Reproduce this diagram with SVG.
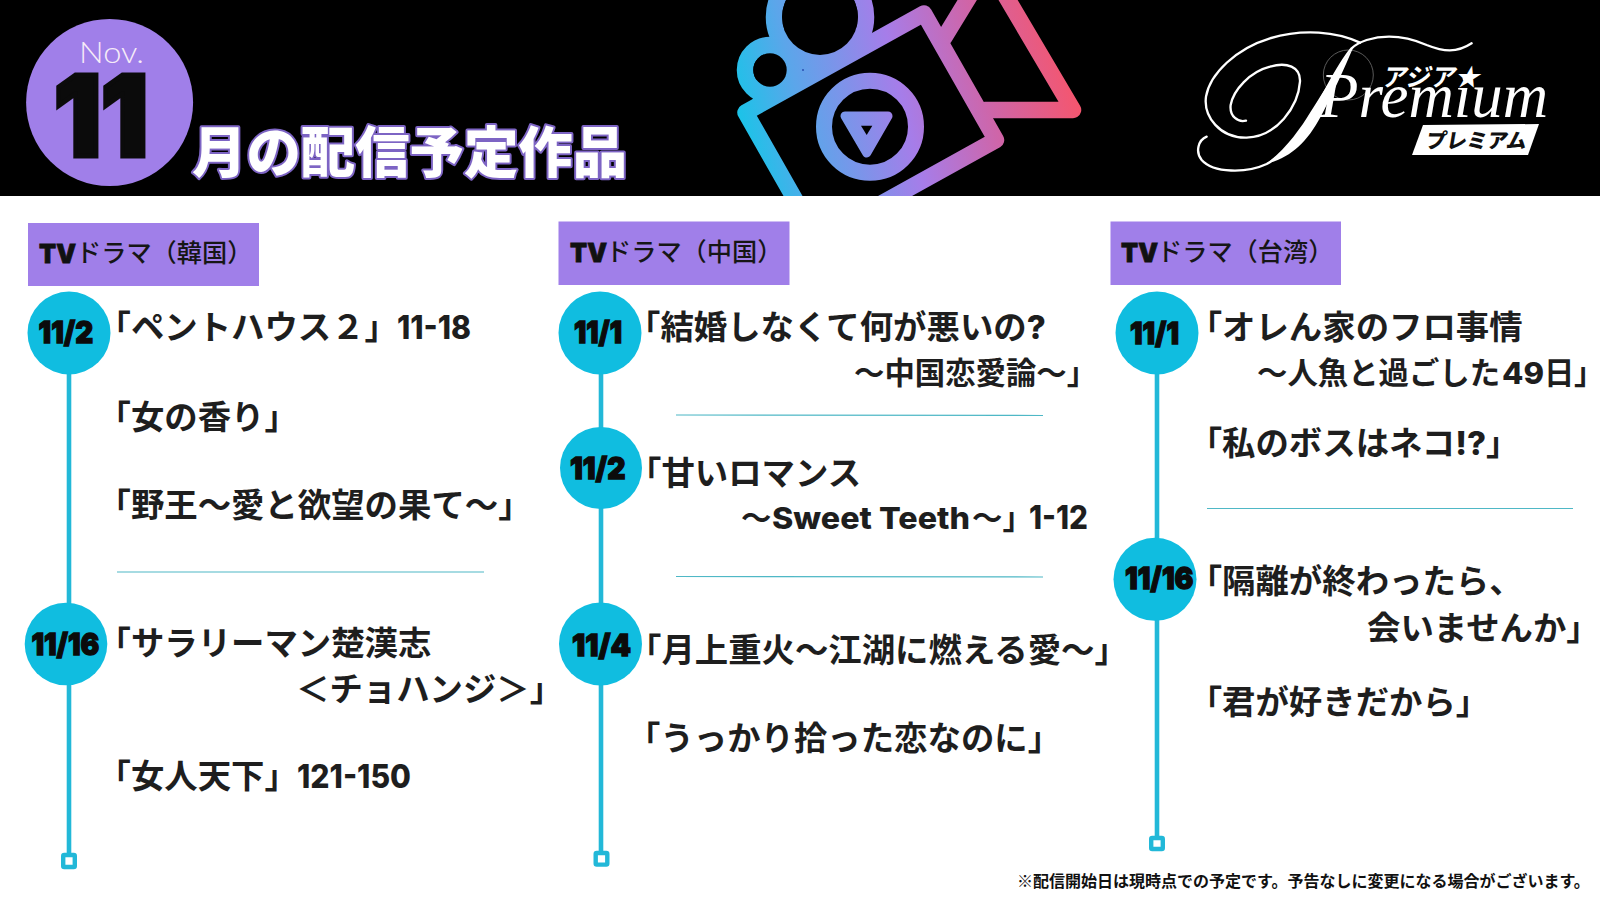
<svg xmlns="http://www.w3.org/2000/svg" width="1600" height="900" viewBox="0 0 1600 900">
<style>
text{font-family:"Noto Sans CJK JP","Noto Sans",sans-serif}
.t{font-size:33.4px;font-weight:700;fill:#1e1e1e}
.s{font-size:30.4px}
.n{font-family:Inter,"Liberation Sans",sans-serif;font-weight:800;font-size:32px}
.d{font-family:Inter,"Liberation Sans",sans-serif;font-weight:900;font-size:30px;fill:#0b0b0b;stroke:#0b0b0b;stroke-width:1.3;text-anchor:start}
.tab{fill:#a07fe9}
.tt{font-size:25.2px;font-weight:500;fill:#161616}
.tv{font-family:Inter,"Liberation Sans",sans-serif;font-weight:900;font-size:26px;fill:#111;stroke:#111;stroke-width:.8}
.c{fill:#10bde0}
.l{stroke:#22b8d8;stroke-width:4.6;fill:none}
.e{fill:#fff;stroke:#22b8d8;stroke-width:4.4}
.dv{stroke:#4fb8c6;stroke-width:1.2}
.g{stroke:url(#grad);stroke-width:16.5;fill:none;stroke-linejoin:round;stroke-linecap:round}
.w{fill:none;stroke:#fff;stroke-width:7;stroke-linecap:round}
.palt{font-feature-settings:"palt"}
</style>
<defs>
<linearGradient id="grad" gradientUnits="userSpaceOnUse" x1="745" y1="170" x2="1075" y2="90">
<stop offset="0" stop-color="#15c6e8"/><stop offset=".2" stop-color="#5ba6ea"/><stop offset=".5" stop-color="#a67de9"/><stop offset=".75" stop-color="#cf65a8"/><stop offset="1" stop-color="#f4566f"/>
</linearGradient>
<clipPath id="hc"><rect width="1600" height="196"/></clipPath>
</defs>
<rect width="1600" height="900" fill="#fff"/>
<rect id="header" width="1600" height="196" fill="#000"/>

<g id="month">
<ellipse cx="109.6" cy="102.5" rx="83.5" ry="83.5" fill="#a07fe9"/>
<text x="79" y="63" font-size="30" font-weight="300" fill="#f6ecf8" style="font-family:Lato,'Noto Sans',sans-serif" textLength="65" lengthAdjust="spacingAndGlyphs">Nov.</text>
<text x="54" y="156" font-size="112" font-weight="900" fill="#0b0b0b" stroke="#0b0b0b" stroke-width="5" style="font-family:Inter,'Liberation Sans',sans-serif" textLength="94" lengthAdjust="spacingAndGlyphs">11</text>
</g>
<g id="title">
<text x="192" y="172" font-size="54.4" font-weight="900" fill="#fff" stroke="#7d64c4" stroke-width="4" stroke-linejoin="round" paint-order="stroke">月の配信予定作品</text>
</g>

<g id="camera" clip-path="url(#hc)">
<polyline class="g" points="944,38 988,-34 1073,110 985,110"/>
<circle cx="820" cy="17" r="46" class="g"/>
<circle cx="770" cy="70" r="25" class="g"/>
<polygon points="768,38 820,17 873,34 880,40 750,110" fill="url(#grad)"/>
<circle cx="820" cy="17" r="38" fill="#000"/>
<circle cx="770" cy="70" r="16.7" fill="#000"/>
<polygon points="745.5,112.5 924,13.5 996,140 817.5,239" fill="#000"/>
<polygon class="g" points="745.5,112.5 924,13.5 996,140 817.5,239"/>
<circle cx="870" cy="126.7" r="46" class="g" style="stroke-width:16"/>
<polygon points="845,116 888,116 866.7,153" fill="url(#grad)" stroke="url(#grad)" stroke-width="9" stroke-linejoin="round"/>
<polygon points="861,125.7 872.3,125.7 866.7,135" fill="#000"/>
<circle cx="803" cy="70" r="1" fill="#2a4fb0"/>
</g>

<g id="logo">
<g transform="translate(1170,10) scale(.3333)">
<circle cx="535" cy="195" r="75" fill="none" stroke="#5a5a5a" stroke-width="3"/>
<path class="w" d="M905 100C860 130 820 125 770 105C700 75 640 75 590 90C570 97 555 105 545 115C500 170 470 240 430 305C395 365 350 430 290 462C230 490 130 490 95 450C75 425 85 390 110 380"/>
<path class="w" d="M570 98C500 65 400 55 300 85C200 115 120 190 108 260C100 320 150 385 230 383C320 380 385 290 390 215C392 170 350 155 300 170C240 185 190 240 182 285C178 320 205 338 228 332"/>
<path fill="#fff" d="M550 112C505 170 465 240 422 305C392 355 345 420 290 460C360 445 412 395 452 320C490 250 525 170 550 112Z"/>
</g>
<text x="1320" y="116.5" font-size="64" font-style="italic" fill="#fff" style="font-family:'Liberation Serif',serif" textLength="228" lengthAdjust="spacingAndGlyphs">Premium</text>
<text transform="translate(1381,86) skewX(-14)" font-size="24.8" font-weight="700" fill="#fff">アジア★</text>
<polygon points="1423,125 1539,124 1528,155 1412,155" fill="#fff"/>
<text transform="translate(1425,147.5) skewX(-10)" font-size="20.4" font-weight="900" fill="#111">プレミアム</text>
</g>

<g id="connectors">
<line class="l" x1="69" y1="370" x2="69" y2="606"/>
<line class="l" x1="69" y1="682" x2="69" y2="853"/>
<line class="l" x1="601" y1="370" x2="601" y2="430"/>
<line class="l" x1="601" y1="505" x2="601" y2="606"/>
<line class="l" x1="601" y1="682" x2="601" y2="851"/>
<line class="l" x1="1157" y1="370" x2="1157" y2="542"/>
<line class="l" x1="1157" y1="617" x2="1157" y2="836"/>
<rect class="e" x="63.2" y="855" width="11.6" height="12" rx="1"/>
<rect class="e" x="595.7" y="853" width="11.6" height="11.6" rx="1"/>
<rect class="e" x="1151.2" y="838" width="11.6" height="11" rx="1"/>
<line class="dv" x1="117" y1="572" x2="484" y2="572"/>
<line class="dv" x1="676" y1="415" x2="1043" y2="415.5"/>
<line class="dv" x1="676" y1="576.5" x2="1043" y2="577"/>
<line class="dv" x1="1207" y1="508.5" x2="1573" y2="508.5"/>
</g>

<g id="tab-korea"><rect class="tab" x="28" y="223" width="231" height="63"/>
<text class="tv" x="39" y="263" textLength="37" lengthAdjust="spacingAndGlyphs">TV</text><text class="tt" x="76" y="262">ドラマ（韓国）</text></g>
<g id="tab-china"><rect class="tab" x="558.5" y="221.5" width="231" height="63.5"/>
<text class="tv" x="570" y="262" textLength="37" lengthAdjust="spacingAndGlyphs">TV</text><text class="tt" x="606" y="261">ドラマ（中国）</text></g>
<g id="tab-taiwan"><rect class="tab" x="1110.5" y="221.5" width="230.5" height="63.5"/>
<text class="tv" x="1121" y="262" textLength="37" lengthAdjust="spacingAndGlyphs">TV</text><text class="tt" x="1157" y="261">ドラマ（台湾）</text></g>

<g id="k-1102"><circle class="c" cx="69" cy="333" r="41.5"/><text class="d" x="38.6" y="343" textLength="54.5" lengthAdjust="spacingAndGlyphs">11/2</text></g>
<g id="k-1116"><circle class="c" cx="66" cy="644" r="41.3"/><text class="d" x="31.4" y="654.5" textLength="68" lengthAdjust="spacingAndGlyphs">11/16</text></g>
<g id="c-1101"><circle class="c" cx="600" cy="333" r="41.5"/><text class="d" x="574" y="343" textLength="48" lengthAdjust="spacingAndGlyphs">11/1</text></g>
<g id="c-1102"><circle class="c" cx="601" cy="468" r="41"/><text class="d" x="570" y="479" textLength="55.5" lengthAdjust="spacingAndGlyphs">11/2</text></g>
<g id="c-1104"><circle class="c" cx="600.5" cy="644" r="41.5"/><text class="d" x="572" y="655.5" textLength="59" lengthAdjust="spacingAndGlyphs">11/4</text></g>
<g id="t-1101"><circle class="c" cx="1157" cy="333" r="41.5"/><text class="d" x="1130" y="344" textLength="49" lengthAdjust="spacingAndGlyphs">11/1</text></g>
<g id="t-1116"><circle class="c" cx="1155" cy="579.3" r="41.5"/><text class="d" x="1125" y="589" textLength="68.5" lengthAdjust="spacingAndGlyphs">11/16</text></g>

<g id="titles-korea">
<text class="t" x="97.5" y="339">「ペントハウス２」<tspan class="n" x="397" textLength="74" lengthAdjust="spacingAndGlyphs">11-18</tspan></text>
<text class="t" x="97.5" y="429">「女の香り」</text>
<text class="t" x="97.5" y="517">「野王～愛と欲望の果て～」</text>
<text class="t" x="97.5" y="655">「サラリーマン楚漢志</text>
<text class="t" x="296" y="701">＜チョハンジ＞」</text>
<text class="t" x="97.5" y="788">「女人天下」<tspan class="n" x="297" textLength="114" lengthAdjust="spacingAndGlyphs">121-150</tspan></text>
</g>
<g id="titles-china">
<text class="t" x="627" y="339">「結婚しなくて何が悪いの<tspan class="n" style="font-size:33px">?</tspan></text>
<text class="t s" x="854" y="383.5">～中国恋愛論～」</text>
<text class="t" x="628" y="484.5">「甘いロマンス</text>
<text class="t s" x="741" y="529">～<tspan class="n" x="772" style="font-size:30px" textLength="198" lengthAdjust="spacingAndGlyphs">Sweet Teeth</tspan><tspan x="972">～」</tspan><tspan class="n" x="1029" textLength="59" lengthAdjust="spacingAndGlyphs">1-12</tspan></text>
<text class="t" x="628" y="662">「月上重火～江湖に燃える愛～」</text>
<text class="t" x="627" y="750">「うっかり拾った恋なのに」</text>
</g>
<g id="titles-taiwan">
<text class="t" x="1188.7" y="338.5">「オレん家のフロ事情</text>
<text class="t s" x="1257" y="383.5">～人魚と過ごした<tspan class="n" x="1502" style="font-size:30px" textLength="42" lengthAdjust="spacingAndGlyphs">49</tspan><tspan x="1544">日</tspan><tspan class="palt">」</tspan></text>
<text class="t" x="1188.7" y="454.5">「私のボスはネコ<tspan class="n" style="font-size:33px">!?</tspan>」</text>
<text class="t" x="1188.7" y="593">「隔離が終わったら、</text>
<text class="t" x="1367" y="640">会いませんか」</text>
<text class="t" x="1188.7" y="714">「君が好きだから」</text>
</g>
<g id="note"><text x="1017" y="887" font-size="16" font-weight="700" fill="#111">※配信開始日は現時点での予定です。予告なしに変更になる場合がございます。</text></g>
</svg>
